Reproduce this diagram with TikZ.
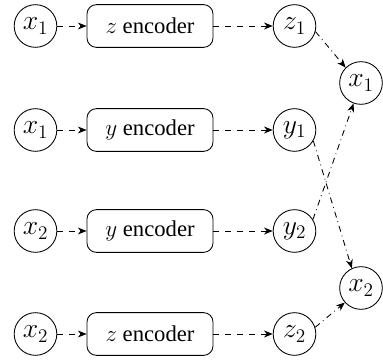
\documentclass[tikz,border=0pt]{standalone}
\usepackage{fontspec}
\setmainfont{Liberation Serif}
\usetikzlibrary{arrows.meta}
\begin{document}
\begin{tikzpicture}[x=0.75pt,y=-0.75pt,
  line width=0.65pt,
  var/.style={draw,circle,minimum size=32pt,inner sep=0pt,font=\fontsize{20}{24}\selectfont},
  enc/.style={draw,rounded corners=7pt,minimum width=94.5pt,minimum height=32pt,inner sep=0pt,font=\fontsize{17}{20}\selectfont},
  tip/.style={-{Stealth[length=6.5pt,width=5.2pt,inset=2pt]}},
  dsh/.style={tip,dash pattern=on 4.5pt off 4.5pt},
  ddot/.style={tip,dash pattern=on 4.5pt off 3pt on 0.6pt off 3pt}]
\useasboundingbox (0,0) rectangle (383,360);
% rows
\node[var] (a1) at (35.5,26) {$x_1$};
\node[var] (a2) at (35.5,130) {$x_1$};
\node[var] (a3) at (35.5,231) {$x_2$};
\node[var] (a4) at (35.5,334) {$x_2$};
\node[enc] (e1) at (150,26) {$z$ encoder};
\node[enc] (e2) at (150,130) {$y$ encoder};
\node[enc] (e3) at (150,231) {$y$ encoder};
\node[enc] (e4) at (150,334) {$z$ encoder};
\node[var] (m1) at (294.5,26) {$z_1$};
\node[var] (m2) at (294.5,130) {$y_1$};
\node[var] (m3) at (294.5,231) {$y_2$};
\node[var] (m4) at (294.5,334) {$z_2$};
\node[var] (r1) at (361,83) {$x_1$};
\node[var] (r2) at (361,288) {$x_2$};
\foreach \i in {1,...,4}{
  \draw[dsh] (a\i) -- (e\i);
  \draw[dsh] (e\i) -- (m\i);
}
\draw[ddot] (m1.-15) -- (r1.135);
\draw[ddot] (m2.-30) -- (r2.115);
\draw[ddot] (m3.32) -- (r1.-110);
\draw[ddot] (m4.18) -- (r2.-138);
\end{tikzpicture}
\end{document}
